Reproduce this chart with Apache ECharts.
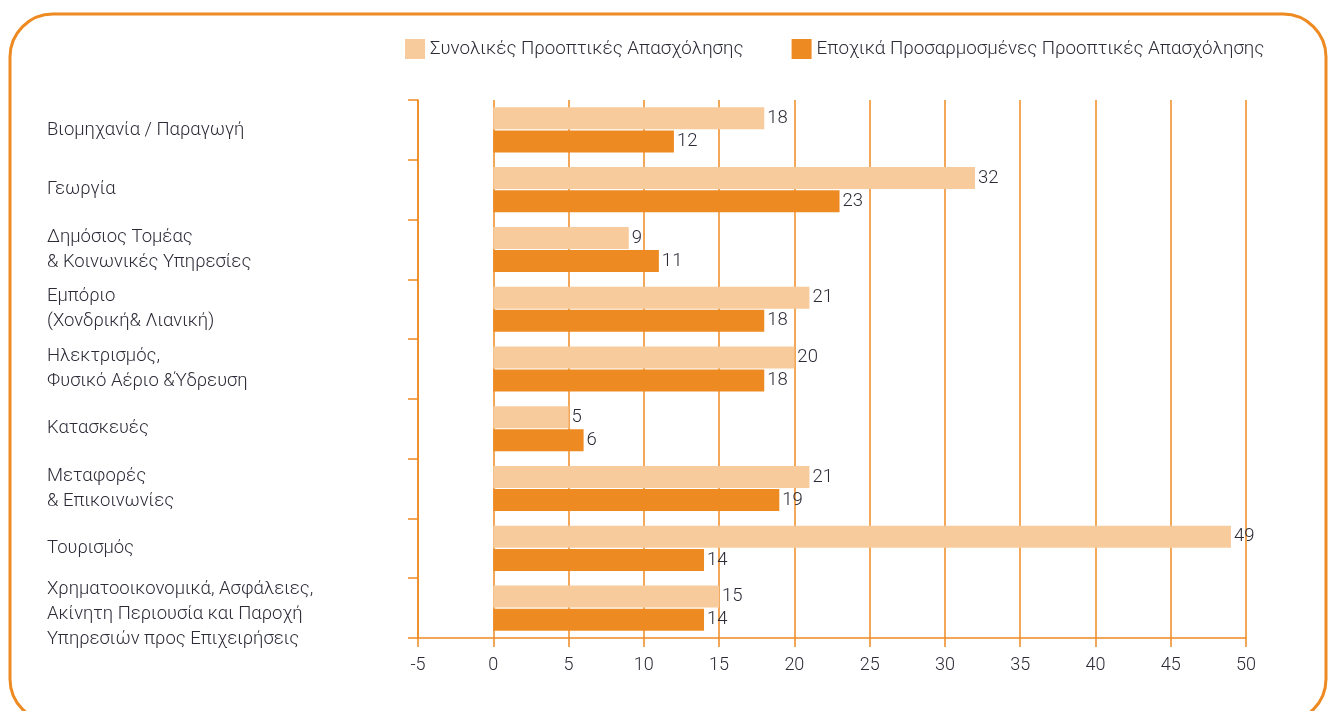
<!DOCTYPE html>
<html>
<head>
<meta charset="utf-8">
<script src="https://cdn.jsdelivr.net/npm/echarts@6/dist/echarts.min.js"></script>
<style>
  html, body { margin: 0; padding: 0; background: #fff; }
  #chart { width: 1329px; height: 711px; }
</style>
</head>
<body>
<div id="chart"></div>
<script>
// 数据
const categories = [
  'Βιομηχανία / Παραγωγή',
  'Γεωργία',
  'Δημόσιος Τομέας\n& Κοινωνικές Υπηρεσίες',
  'Εμπόριο\n(Χονδρική& Λιανική)',
  'Ηλεκτρισμός,\nΦυσικό Αέριο &Ύδρευση',
  'Κατασκευές',
  'Μεταφορές\n& Επικοινωνίες',
  'Τουρισμός',
  'Χρηματοοικονομικά, Ασφάλειες,\nΑκίνητη Περιουσία και Παροχή\nΥπηρεσιών προς Επιχειρήσεις'
]
const totalOutlook = [18, 32, 9, 21, 20, 5, 21, 49, 15]
const seasonalOutlook = [12, 23, 11, 18, 18, 6, 19, 14, 14]
const seriesNames = ['Συνολικές Προοπτικές Απασχόλησης', 'Εποχικά Προσαρμοσμένες Προοπτικές Απασχόλησης']

const ORANGE = '#EE8A22'
const LIGHT = '#F8CB9C'
const TEXT = '#2c2c38'
const FONT = 'Roboto, "Liberation Sans", sans-serif'

const chart = echarts.init(document.getElementById('chart'))

chart.setOption({
  animation: false,
  textStyle: { fontFamily: FONT },
  // 外框：圆角橙色边框
  graphic: [{
    type: 'rect',
    shape: { x: 10, y: 14, width: 1316, height: 708, r: 43 },
    style: { fill: 'none', stroke: ORANGE, lineWidth: 3 },
    silent: true
  }],
  legend: {
    data: seriesNames,
    left: 400,
    top: 34,
    itemWidth: 20,
    itemHeight: 20,
    itemGap: 48,
    icon: 'rect',
    textStyle: { fontSize: 18.8, color: TEXT, fontFamily: FONT, fontWeight: 300 }
  },
  grid: { left: 418, right: 83, top: 100, bottom: 73, outerBoundsMode: 'none', containLabel: false },
  xAxis: {
    type: 'value',
    min: -5,
    max: 50,
    interval: 5,
    axisLine: { show: true, lineStyle: { color: ORANGE, width: 1.5 } },
    axisTick: { show: true, length: 9, lineStyle: { color: ORANGE, width: 1.5 } },
    splitLine: { show: true, lineStyle: { color: ORANGE, width: 1.5 } },
    axisLabel: { fontSize: 18, color: TEXT, margin: 18, fontFamily: FONT, fontWeight: 300 }
  },
  yAxis: {
    type: 'category',
    data: categories,
    inverse: true,
    axisLine: { show: true, onZero: false, lineStyle: { color: ORANGE, width: 1.5 } },
    axisTick: { show: true, length: 10, lineStyle: { color: ORANGE, width: 1.5 } },
    axisLabel: {
      align: 'left',
      margin: 371,
      fontSize: 18.5,
      lineHeight: 25,
      color: TEXT,
      fontFamily: FONT,
      fontWeight: 300,
      // 三行标签在参考图中略微偏下：加一个空的矮行
      formatter: (v) => (v.split('\n').length === 3 ? '{s|}\n' + v : v),
      rich: { s: { height: 12, lineHeight: 12 } }
    }
  },
  series: [
    {
      name: seriesNames[0],
      type: 'bar',
      data: totalOutlook,
      barWidth: 22,
      barGap: '5%',
      itemStyle: { color: LIGHT },
      label: { show: true, position: 'right', distance: 3, fontSize: 18.5, color: TEXT, fontFamily: FONT, fontWeight: 300 }
    },
    {
      name: seriesNames[1],
      type: 'bar',
      data: seasonalOutlook,
      barWidth: 22,
      barGap: '5%',
      itemStyle: { color: ORANGE },
      label: { show: true, position: 'right', distance: 3, fontSize: 18.5, color: TEXT, fontFamily: FONT, fontWeight: 300 }
    }
  ]
})
</script>
</body>
</html>
